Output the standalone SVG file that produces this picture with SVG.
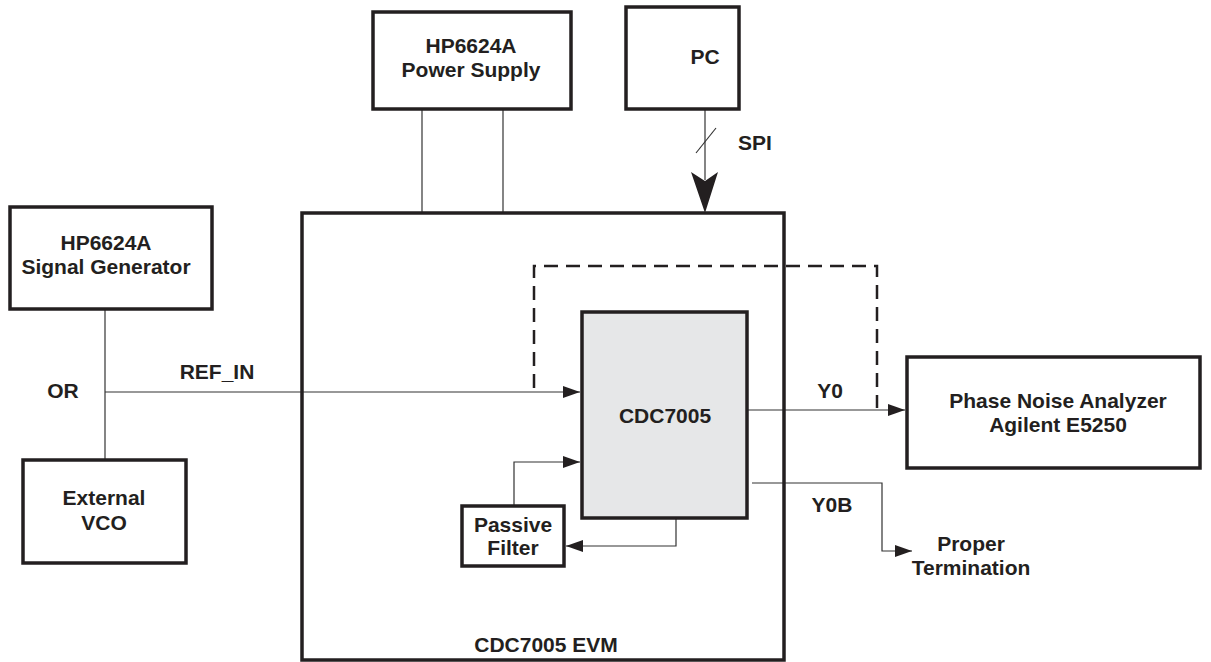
<svg xmlns="http://www.w3.org/2000/svg" width="1211" height="662" viewBox="0 0 1211 662">
<defs>
<style>
.box{fill:#fff;stroke:#231f20;stroke-width:3.5}
.chip{fill:#e6e7e8;stroke:#231f20;stroke-width:3.5}
.ln{fill:none;stroke:#333;stroke-width:1.2}
.dash{fill:none;stroke:#231f20;stroke-width:2.5;stroke-dasharray:14 8}
.t{font-family:"Liberation Sans",Arial,sans-serif;font-weight:bold;font-size:21px;fill:#231f20;text-anchor:middle}
.tl{font-family:"Liberation Sans",Arial,sans-serif;font-weight:bold;font-size:21px;fill:#231f20;text-anchor:start}
</style>
<marker id="ah" markerUnits="userSpaceOnUse" markerWidth="18" markerHeight="12" refX="17" refY="6" orient="auto">
<path d="M0,0 L17,6 L0,12 z" fill="#231f20"/>
</marker>
</defs>
<rect width="1211" height="662" fill="#fff"/>

<g id="connectors">
<line class="ln" x1="422" y1="109" x2="422" y2="213"/>
<line class="ln" x1="503" y1="109" x2="503" y2="213"/>
<line class="ln" x1="705" y1="109" x2="705" y2="180"/>
<line class="ln" x1="696" y1="153" x2="716" y2="128"/>
<polygon points="691,172 705,181 718,172 705,213" fill="#231f20"/>
<line class="ln" x1="105" y1="309" x2="105" y2="460"/>
<line class="ln" x1="105" y1="392" x2="580" y2="392" marker-end="url(#ah)"/>
<line class="ln" x1="747" y1="410" x2="905" y2="410" marker-end="url(#ah)"/>
<polyline class="ln" points="752,483 882,483 882,551 912,551" marker-end="url(#ah)"/>
<polyline class="ln" points="514,506 514,462 580,462" marker-end="url(#ah)"/>
<polyline class="ln" points="676,518 676,546 566,546" marker-end="url(#ah)"/>
<path class="dash" d="M534,388 V266 H877 V408"/>
</g>

<g id="evm">
<rect class="box" x="302" y="213" width="482" height="447" style="fill:none"/>
<text class="t" x="546" y="652">CDC7005 EVM</text>
</g>

<g id="power-supply">
<rect class="box" x="373" y="12" width="198" height="97"/>
<text class="t" x="471" y="53">HP6624A</text>
<text class="t" x="471" y="77">Power Supply</text>
</g>

<g id="pc">
<rect class="box" x="626" y="7" width="113" height="102"/>
<text class="t" x="705" y="64">PC</text>
</g>
<text class="tl" x="738" y="150">SPI</text>

<g id="signal-generator">
<rect class="box" x="10" y="207" width="202" height="102"/>
<text class="t" x="106" y="250">HP6624A</text>
<text class="t" x="106" y="274">Signal Generator</text>
</g>

<g id="external-vco">
<rect class="box" x="23" y="460" width="163" height="103"/>
<text class="t" x="104" y="505">External</text>
<text class="t" x="104" y="530">VCO</text>
</g>

<text class="t" x="63" y="398">OR</text>
<text class="t" x="217" y="379">REF_IN</text>

<g id="cdc7005">
<rect class="chip" x="582" y="312" width="165" height="206"/>
<text class="t" x="665" y="423">CDC7005</text>
</g>

<g id="passive-filter">
<rect class="box" x="462" y="506" width="102" height="60"/>
<text class="t" x="513" y="532">Passive</text>
<text class="t" x="513" y="555">Filter</text>
</g>

<g id="phase-noise-analyzer">
<rect class="box" x="907" y="357" width="293" height="111"/>
<text class="t" x="1058" y="408">Phase Noise Analyzer</text>
<text class="t" x="1058" y="432">Agilent E5250</text>
</g>

<text class="t" x="830" y="398">Y0</text>
<text class="t" x="832" y="512">Y0B</text>

<g id="proper-termination">
<text class="t" x="971" y="551">Proper</text>
<text class="t" x="971" y="575">Termination</text>
</g>
</svg>
